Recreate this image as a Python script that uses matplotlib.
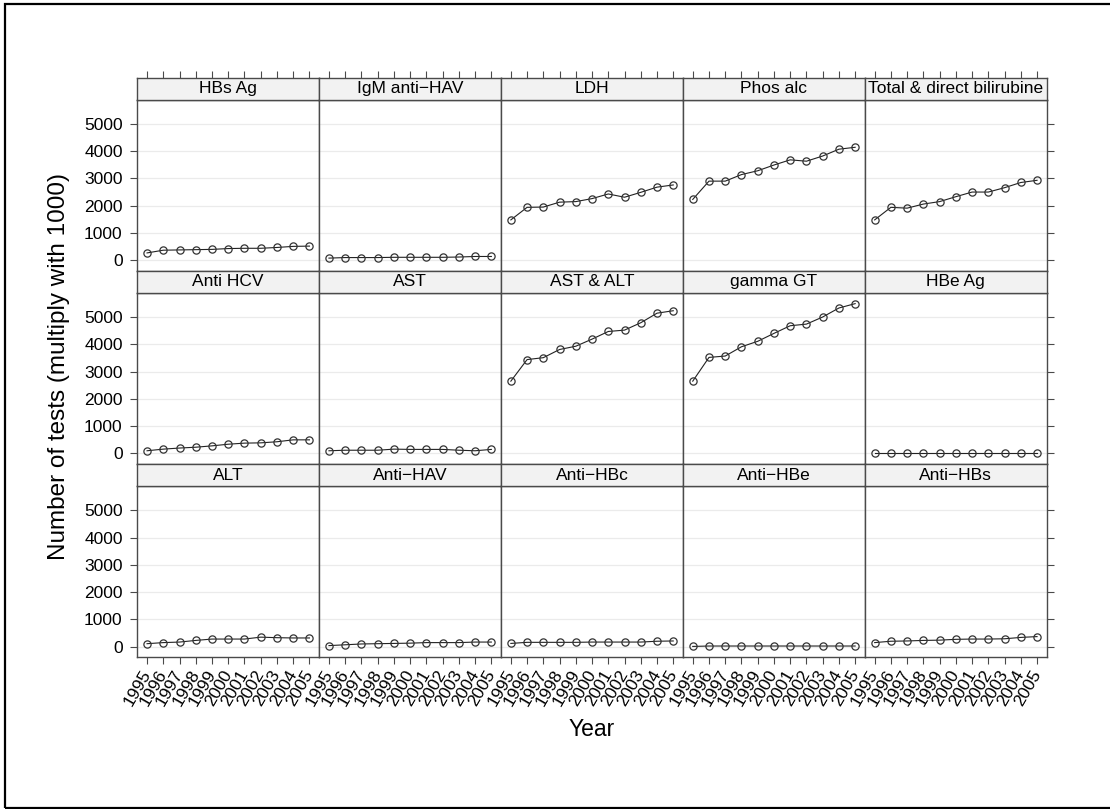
import matplotlib.pyplot as plt
from matplotlib.patches import Rectangle

plt.rcParams["font.family"] = ["Liberation Sans", "DejaVu Sans"]

years = list(range(1995, 2006))

# yearly number of tests (x 1000), one series per test type
hbs_ag = [270, 370, 380, 390, 400, 430, 440, 440, 470, 510, 520]
igm_anti_hav = [80, 100, 100, 100, 110, 110, 110, 110, 120, 140, 140]
ldh = [1480, 1940, 1950, 2130, 2150, 2260, 2430, 2310, 2490, 2680, 2760]
phos_alc = [2230, 2900, 2900, 3140, 3280, 3490, 3680, 3630, 3820, 4070, 4140]
bilirubine = [1480, 1940, 1910, 2060, 2150, 2330, 2500, 2500, 2660, 2850, 2930]
anti_hcv = [100, 160, 200, 230, 280, 340, 380, 390, 430, 500, 500]
ast = [100, 120, 120, 120, 160, 150, 150, 150, 120, 100, 150]
ast_alt = [2650, 3440, 3510, 3810, 3930, 4190, 4470, 4520, 4790, 5140, 5230]
gamma_gt = [2650, 3520, 3570, 3910, 4110, 4400, 4680, 4740, 5000, 5330, 5490]
hbe_ag = [20, 20, 20, 20, 20, 20, 20, 20, 20, 20, 20]
alt = [110, 150, 170, 230, 280, 280, 280, 350, 330, 320, 320]
anti_hav = [40, 70, 100, 110, 120, 130, 150, 150, 150, 170, 170]
anti_hbc = [120, 160, 160, 160, 160, 170, 170, 170, 170, 200, 210]
anti_hbe = [10, 25, 25, 25, 25, 25, 25, 25, 25, 25, 25]
anti_hbs = [150, 200, 210, 230, 240, 270, 280, 280, 290, 340, 370]

panels = [
    ("HBs Ag", hbs_ag), ("IgM anti\u2212HAV", igm_anti_hav), ("LDH", ldh),
    ("Phos alc", phos_alc), ("Total & direct bilirubine", bilirubine),
    ("Anti HCV", anti_hcv), ("AST", ast), ("AST & ALT", ast_alt),
    ("gamma GT", gamma_gt), ("HBe Ag", hbe_ag),
    ("ALT", alt), ("Anti\u2212HAV", anti_hav), ("Anti\u2212HBc", anti_hbc),
    ("Anti\u2212HBe", anti_hbe), ("Anti\u2212HBs", anti_hbs),
]

yticks = [0, 1000, 2000, 3000, 4000, 5000]

W, H = 1110, 809
fig = plt.figure(figsize=(W / 100, H / 100), dpi=100)

left, pw = 137.3, 181.9
top0, strip_h, panel_h, row_h = 77.5, 22.5, 170.7, 193.2
frame_col = "#4a4a4a"

for i, (name, vals) in enumerate(panels):
    r, c = divmod(i, 5)
    x0 = left + c * pw
    strip_top = top0 + r * row_h
    panel_top = strip_top + strip_h

    ax = fig.add_axes([x0 / W, 1 - (panel_top + panel_h) / H, pw / W, panel_h / H])
    ax.plot(years, vals, color="#222222", lw=0.8, marker="o", ms=5.2,
            mfc="none", mec="#333333", mew=0.9)
    ax.set_xlim(1994.4, 2005.6)
    ax.set_ylim(-381, 5872)
    ax.set_yticks(yticks)
    ax.set_xticks(years)
    ax.yaxis.grid(True, color="#ebebeb", lw=0.9)
    ax.set_axisbelow(True)
    for s in ax.spines.values():
        s.set_color(frame_col)
        s.set_linewidth(1.0)
    ax.tick_params(direction="out", length=5, width=0.8, color=frame_col,
                   labelsize=12.5, bottom=(r == 2), labelbottom=(r == 2),
                   left=(c == 0), labelleft=(c == 0), right=(c == 4),
                   labelright=False, top=False)
    ax.tick_params(axis="y", pad=5.5)
    ax.tick_params(axis="x", pad=5)
    if r == 2:
        ax.set_xticklabels([str(y) for y in years], rotation=60, ha="right",
                           va="center", rotation_mode="anchor")

    sax = fig.add_axes([x0 / W, 1 - panel_top / H, pw / W, strip_h / H])
    sax.set_facecolor("#f2f2f2")
    sax.set_xlim(1994.4, 2005.6)
    sax.set_yticks([])
    sax.set_xticks(years if r == 0 else [])
    sax.tick_params(axis="x", direction="out", length=5, width=0.8,
                    color=frame_col, bottom=False, labelbottom=False,
                    top=(r == 0), labeltop=False)
    for s in sax.spines.values():
        s.set_color(frame_col)
        s.set_linewidth(1.0)
    sax.text(0.5, 0.5, name, transform=sax.transAxes, ha="center",
             va="center", fontsize=12.5, clip_on=False)

fig.text(592 / W, 1 - 730 / H, "Year", ha="center", va="center", fontsize=16.5)
fig.text(59 / W, 1 - 367 / H, "Number of tests (multiply with 1000)",
         rotation=90, ha="center", va="center", fontsize=17.5)

fig.add_artist(Rectangle((5 / W, 1 - 808 / H), 1.2, 804 / H,
                         transform=fig.transFigure, fill=False,
                         lw=1.6, ec="black"))

fig.savefig("out.png", dpi=100)
